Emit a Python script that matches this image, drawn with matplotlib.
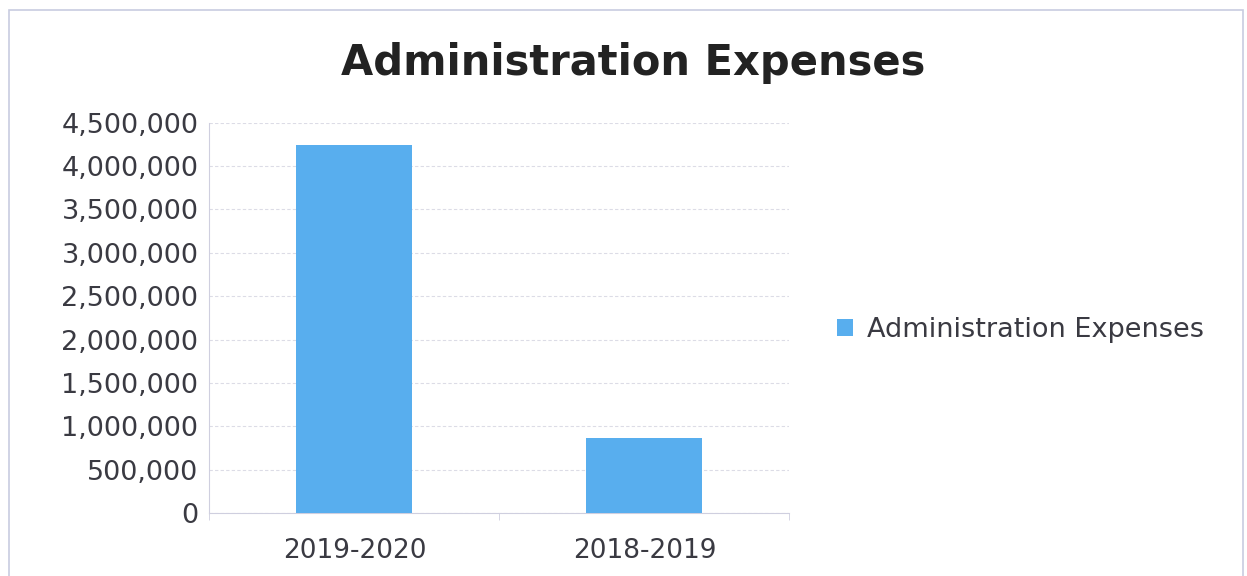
import matplotlib.pyplot as plt
from matplotlib.ticker import FuncFormatter, FixedLocator
from matplotlib.patches import Rectangle

# Data
categories = ['2019-2020', '2018-2019']
expenses = [4240000, 865000]
series_name = 'Administration Expenses'

plt.rcParams['font.family'] = ['DejaVu Sans']

fig = plt.figure(figsize=(12.47, 5.76), dpi=100)
ax = fig.add_axes([0.168, 0.109, 0.465, 0.678])

bar_color = '#58AEEE'
ax.bar(range(len(categories)), expenses, width=0.4, color=bar_color, label=series_name, zorder=3)

ax.set_xlim(-0.5, len(categories) - 0.5)
ax.set_ylim(0, 4500000)
ax.yaxis.set_major_locator(FixedLocator(range(0, 4500001, 500000)))
ax.yaxis.set_major_formatter(FuncFormatter(lambda v, p: f'{int(v):,}'))
ax.set_xticks(range(len(categories)))
ax.set_xticklabels(categories)
ax.xaxis.set_minor_locator(FixedLocator([-0.5, 0.5, 1.5]))

ax.grid(axis='y', color='#dcdce6', linewidth=0.8, linestyle=(0, (3, 2)), zorder=0)
for side in ['top', 'right']:
    ax.spines[side].set_visible(False)
ax.spines['left'].set_color('#cfcfdf')
ax.spines['bottom'].set_color('#cfcfdf')
ax.tick_params(axis='y', length=0, labelsize=19.5, labelcolor='#3a3a42', pad=8)
ax.tick_params(axis='x', which='major', length=0, labelsize=19, labelcolor='#3a3a42', pad=18)
ax.tick_params(axis='x', which='minor', length=5, color='#cfcfdf')

fig.text(0.508, 0.89, 'Administration Expenses', ha='center', va='center',
         fontsize=30, fontweight='bold', color='#222222')

ax.legend(loc='center left', bbox_to_anchor=(1.04, 0.47), frameon=False, fontsize=19.5,
          handlelength=0.6, handleheight=0.6, handletextpad=0.5, labelcolor='#3a3a42')

# Outer chart frame
fig.patches.append(Rectangle((0.007, -0.02), 0.99, 1 - 0.017 + 0.02, transform=fig.transFigure,
                             fill=False, edgecolor='#c8cce0', linewidth=1.2))

fig.savefig('out.png', dpi=100)
